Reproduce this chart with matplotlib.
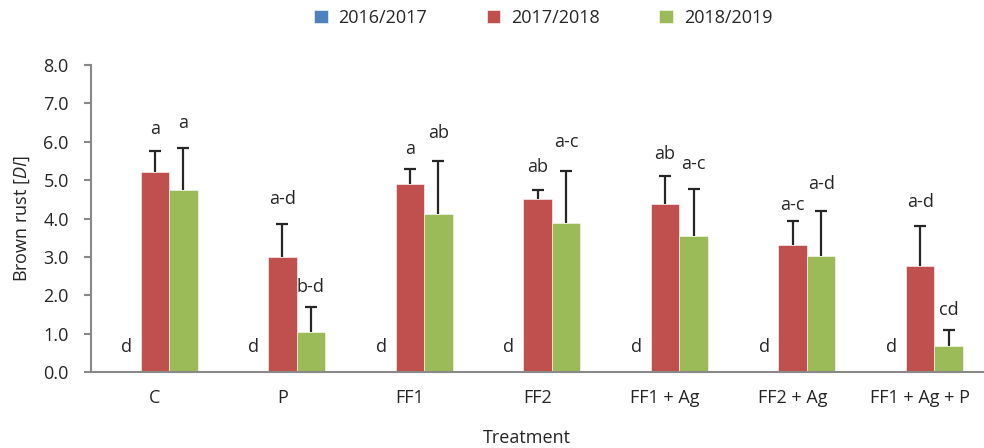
import numpy as np
import matplotlib.pyplot as plt

plt.rcParams['font.family'] = ['Open Sans', 'DejaVu Sans']
plt.rcParams['mathtext.fontset'] = 'custom'
plt.rcParams['mathtext.rm'] = 'Open Sans'
plt.rcParams['mathtext.it'] = 'Open Sans:italic'

treatments = ['C', 'P', 'FF1', 'FF2', 'FF1 + Ag', 'FF2 + Ag', 'FF1 + Ag + P']
seasons = ['2016/2017', '2017/2018', '2018/2019']

di_1617 = [0, 0, 0, 0, 0, 0, 0]
di_1718 = [5.22, 3.00, 4.91, 4.51, 4.37, 3.32, 2.77]
di_1819 = [4.74, 1.05, 4.13, 3.89, 3.55, 3.03, 0.69]
err_1718 = [0.53, 0.85, 0.39, 0.23, 0.75, 0.62, 1.04]
err_1819 = [1.10, 0.64, 1.38, 1.35, 1.21, 1.17, 0.40]

letters_1617 = ['d', 'd', 'd', 'd', 'd', 'd', 'd']
letters_1718 = ['a', 'a-d', 'a', 'ab', 'ab', 'a-c', 'a-d']
letters_1819 = ['a', 'b-d', 'ab', 'a-c', 'a-c', 'a-d', 'cd']
# label heights as placed in the original figure
ypos_1617 = [0.66] * 7
ypos_1718 = [6.33, 4.50, 5.82, 5.35, 5.69, 4.35, 4.42]
ypos_1819 = [6.48, 2.21, 6.24, 6.00, 5.41, 4.90, 1.61]

colors = ['#4F81BD', '#C0504D', '#9BBB59']
text_col = '#262626'
axis_col = '#898989'

fig = plt.figure(figsize=(9.84, 4.48), dpi=100)
ax = fig.add_axes([91 / 984, 1 - 372 / 448, 1 - 91 / 984, (372 - 65) / 448])

x = np.arange(len(treatments))
w = 0.2235
offsets = [-w, 0, w]
values = [di_1617, di_1718, di_1819]
errs = [None, err_1718, err_1819]
letters = [letters_1617, letters_1718, letters_1819]
ypos = [ypos_1617, ypos_1718, ypos_1819]

for k in range(3):
    ax.bar(x + offsets[k], values[k], width=w, color=colors[k], label=seasons[k],
           edgecolor='white', linewidth=0.4, zorder=2)
    if errs[k] is not None:
        _, caps, _ = ax.errorbar(x + offsets[k], values[k], yerr=[np.zeros(7), errs[k]],
                                 fmt='none', ecolor=text_col, elinewidth=1.6,
                                 capsize=4.3, capthick=1.6, zorder=3)
        caps[0].set_visible(False)  # upper error bars only
    for i in range(len(treatments)):
        ax.text(x[i] + offsets[k], ypos[k][i], letters[k][i], ha='center', va='center',
                fontsize=13, color=text_col)

ax.set_xlim(-0.5, 6.5)
ax.set_ylim(0, 8)
ax.set_yticks(np.arange(0, 8.1, 1.0))
ax.set_yticklabels([f'{v:.1f}' for v in np.arange(0, 8.1, 1.0)])
ax.set_xticks(x)
ax.set_xticklabels(treatments)

for s in ['top', 'right']:
    ax.spines[s].set_visible(False)
for s in ['left', 'bottom']:
    ax.spines[s].set_color(axis_col)
    ax.spines[s].set_linewidth(1.5)
ax.tick_params(axis='y', direction='out', length=5, width=1.5, color=axis_col,
               labelsize=13, labelcolor=text_col, pad=11)
ax.tick_params(axis='x', length=0, labelsize=13, labelcolor=text_col, pad=12)

ax.set_ylabel(r'Brown rust [$\it{DI}$]', fontsize=13, color=text_col)
ax.yaxis.set_label_coords(-0.066, 0.5)
ax.set_xlabel('Treatment', fontsize=13, color=text_col)
ax.xaxis.set_label_coords(0.488, -0.185)

fig.legend(loc='center', bbox_to_anchor=(0.552, 0.96), ncol=3, frameon=False,
           fontsize=13, handlelength=0.75, handleheight=0.75, handletextpad=0.6,
           columnspacing=3.3, labelcolor=text_col)

fig.savefig('out.png', dpi=100)
